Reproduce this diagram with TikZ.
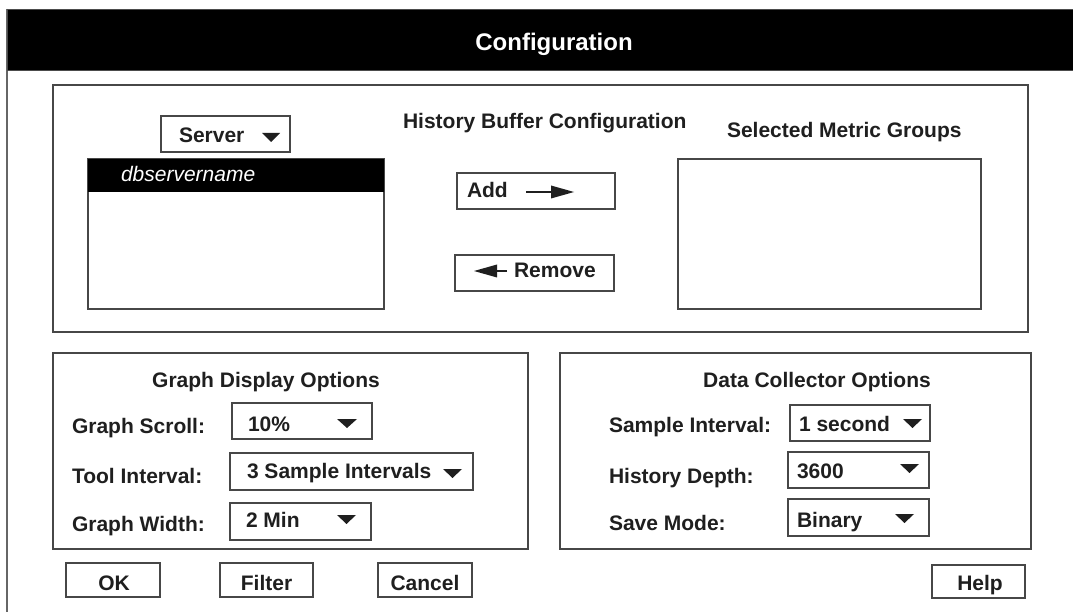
\documentclass[tikz,border=0pt]{standalone}
\usepackage{fontspec}
\setmainfont{Liberation Sans}
\newcommand\uifont{\fontsize{21}{25}\selectfont\bfseries}
\newcommand\ttlfont{\fontsize{24}{28}\selectfont\bfseries}
\newcommand\itfont{\fontsize{21}{25}\selectfont\itshape}
\begin{document}
\begin{tikzpicture}[x=1pt,y=-1pt,
  frame/.style={draw=black!72, line width=1.6pt, fill=white, inner sep=0pt, outer sep=0pt, anchor=north west, rectangle},
  lbl/.style={inner sep=0pt, outer sep=0pt, anchor=base west, text=black!88, font=\uifont},
  clbl/.style={lbl, anchor=base},
  dropmark/.style={fill=black!88},
]
\useasboundingbox (0,0) rectangle (1073,612);
\fill[white] (0,0) rectangle (1073,612);
% window
\draw[black!60, line width=2pt] (7,9) -- (7,612);
\node[fill=black, draw=black!70, line width=1pt, inner sep=0pt, anchor=north west, minimum width=1070pt, minimum height=61pt] (titlebar) at (7,9) {};
\node[clbl, text=white, font=\ttlfont] (title) at (554,51) {Configuration};

% top group
\node[frame, minimum width=975pt, minimum height=247pt] (topbox) at (53,85) {};
\node[frame, minimum width=129pt, minimum height=36pt] (server) at (161,116) {};
\node[lbl] (servertxt) at (179,143) {Server};
\fill[dropmark] (262,133) -- (280,133) -- (271,142) -- cycle;

\node[frame, minimum width=296pt, minimum height=150pt] (list) at (88,159) {};
\node[fill=black, inner sep=0pt, anchor=north west, minimum width=296pt, minimum height=33pt] (listsel) at (88,159) {};
\node[lbl, font=\itfont, text=white] (dbname) at (121,182) {dbservername};

\node[lbl] (hbc) at (403,129) {History Buffer Configuration};

\node[frame, minimum width=158pt, minimum height=36pt] (addbtn) at (457,173) {};
\node[lbl] (addtxt) at (467,198) {Add};
\coordinate (adda) at (526,192);
\coordinate (addb) at (553,192);
\draw[black!88, line width=1.8pt] (adda) -- (addb);
\fill[black!88] (551,185.5) -- (574,192) -- (551,198.5) -- cycle;

\node[frame, minimum width=159pt, minimum height=36pt] (rembtn) at (455,255) {};
\coordinate (rema) at (507,271);
\coordinate (remb) at (495,271);
\draw[black!88, line width=1.8pt] (rema) -- (remb);
\fill[black!88] (497,264.5) -- (474,271) -- (497,277.5) -- cycle;
\node[lbl] (remtxt) at (514,278) {Remove};

\node[lbl] (smg) at (727,138) {Selected Metric Groups};
\node[frame, minimum width=303pt, minimum height=150pt] (selbox) at (678,159) {};

% graph display options
\node[frame, minimum width=475pt, minimum height=196pt] (gdo) at (53,353) {};
\node[clbl] (gdotitle) at (266,387) {Graph Display Options};
\node[lbl] (gscroll) at (72,433) {Graph Scroll:};
\node[lbl] (tint) at (72,483) {Tool Interval:};
\node[lbl] (gwidth) at (72,531) {Graph Width:};

\node[frame, minimum width=140pt, minimum height=36pt] (scrolldd) at (232,403) {};
\node[lbl] (scrolltxt) at (248,431) {10\%};
\fill[dropmark] (337,419) -- (357,419) -- (347,428) -- cycle;

\node[frame, minimum width=243pt, minimum height=37pt] (tintdd) at (230,453) {};
\node[lbl] (tinttxt) at (247,478) {3 Sample Intervals};
\fill[dropmark] (443,469) -- (462,469) -- (452.5,478) -- cycle;

\node[frame, minimum width=141pt, minimum height=37pt] (widthdd) at (230,503) {};
\node[lbl] (widthtxt) at (246,527) {2 Min};
\fill[dropmark] (337,515) -- (356,515) -- (346.5,524) -- cycle;

% data collector options
\node[frame, minimum width=471pt, minimum height=196pt] (dco) at (560,353) {};
\node[clbl] (dcotitle) at (817,387) {Data Collector Options};
\node[lbl] (sint) at (609,432) {Sample Interval:};
\node[lbl] (hdepth) at (609,483) {History Depth:};
\node[lbl] (smode) at (609,530) {Save Mode:};

\node[frame, minimum width=140pt, minimum height=36pt] (sintdd) at (790,405) {};
\node[lbl] (sinttxt) at (799,431) {1 second};
\fill[dropmark] (903,419) -- (922,419) -- (912.5,428) -- cycle;

\node[frame, minimum width=141pt, minimum height=36pt] (hdepthdd) at (788,452) {};
\node[lbl] (hdepthtxt) at (797,478) {3600};
\fill[dropmark] (900,464) -- (919,464) -- (909.5,473) -- cycle;

\node[frame, minimum width=141pt, minimum height=37pt] (smodedd) at (788,499) {};
\node[lbl] (smodetxt) at (797,527) {Binary};
\fill[dropmark] (895,514) -- (914,514) -- (904.5,523) -- cycle;

% buttons
\node[frame, minimum width=94pt, minimum height=34pt] (okbtn) at (66,563) {};
\node[clbl] (oktxt) at (114,590) {OK};
\node[frame, minimum width=93pt, minimum height=34pt] (filterbtn) at (220,563) {};
\node[clbl] (filtertxt) at (266.5,590) {Filter};
\node[frame, minimum width=94pt, minimum height=34pt] (cancelbtn) at (378,563) {};
\node[clbl] (canceltxt) at (425,590) {Cancel};
\node[frame, minimum width=93pt, minimum height=33pt] (helpbtn) at (932,565) {};
\node[clbl] (helptxt) at (980,590) {Help};
\end{tikzpicture}
\end{document}
